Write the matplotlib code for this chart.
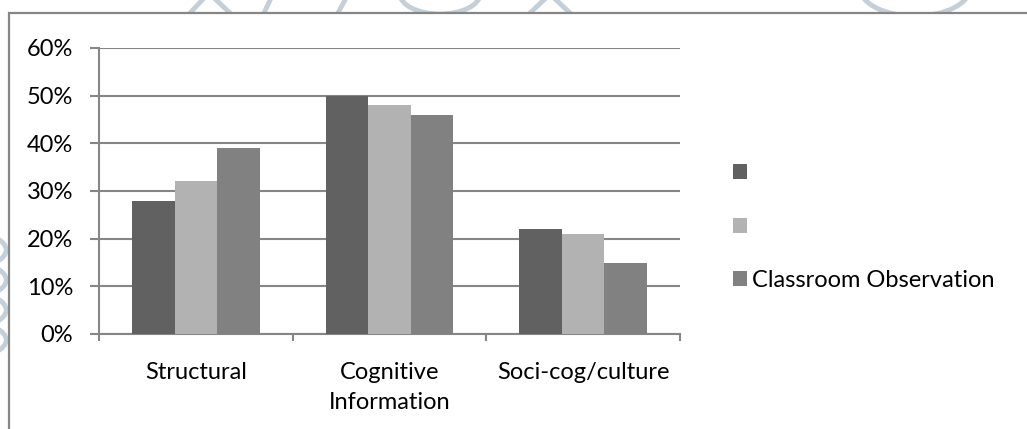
import matplotlib

matplotlib.use("Agg")

import matplotlib.pyplot as plt
import numpy as np
from matplotlib.patches import Patch, Rectangle, Arc
from matplotlib.lines import Line2D
from matplotlib.ticker import FuncFormatter, MultipleLocator

categories = ["Structural", "Cognitive\nInformation", "Soci-cog/culture"]
series_labels = ["", "", "Classroom Observation"]
series_values = [
    [28, 50, 22],
    [32, 48, 21],
    [39, 46, 15],
]
series_colors = ["#616161", "#b2b2b2", "#818181"]

W, H = 1027, 429
FS = 17
plt.rcParams["font.family"] = ["Lato", "DejaVu Sans"]

fig = plt.figure(figsize=(W / 100, H / 100), dpi=100)


def px(x, y):
    return x / W, 1 - y / H


# faint watermark strokes peeking out around the chart frame
mark_color = "#c3cfd9"
for x0, y0, x1, y1 in [(190, 13, 206, -4), (212, -4, 230, 13), (264, 13, 272, -4),
                       (338, 13, 346, -2), (530, 13, 548, -4), (552, -4, 570, 13)]:
    fig.add_artist(Line2D([x0 / W, x1 / W], [1 - y0 / H, 1 - y1 / H],
                          color=mark_color, lw=3.5, transform=fig.transFigure,
                          zorder=-3))
for cy in [250, 280, 310, 340]:
    fig.add_artist(Arc(px(-40, cy), 0.09, 0.09, theta1=-40, theta2=40,
                       color=mark_color, lw=3.5, transform=fig.transFigure,
                       zorder=-3))
fig.add_artist(Arc(px(440, -6), 80 / W, 40 / H, theta1=180, theta2=360,
                   color=mark_color, lw=3.5, transform=fig.transFigure, zorder=-3))
fig.add_artist(Arc(px(915, -12), 110 / W, 56 / H, theta1=180, theta2=360,
                   color=mark_color, lw=3.5, transform=fig.transFigure, zorder=-3))

# chart frame
fig.add_artist(Rectangle(px(9, 440), (W + 20) / W, (440 - 13) / H,
                         transform=fig.transFigure, facecolor="white",
                         edgecolor="#868686", lw=1.6, zorder=-2))

ax = fig.add_axes([99 / W, 1 - 334 / H, (680 - 99) / W, (334 - 48) / H])
ax.set_facecolor("none")

x = np.arange(len(categories))
bar_w = 0.22
for i, (vals, color, label) in enumerate(zip(series_values, series_colors, series_labels)):
    ax.bar(x + (i - 1) * bar_w, vals, bar_w, color=color, label=label, zorder=3)

ax.set_xlim(-0.5, len(categories) - 0.5)
ax.set_ylim(0, 60)
ax.yaxis.set_major_locator(MultipleLocator(10))
ax.yaxis.set_major_formatter(FuncFormatter(lambda v, _: f"{v:.0f}%"))
ax.grid(axis="y", color="#868686", lw=1.5, zorder=0)

ax.set_xticks(np.arange(len(categories) + 1) - 0.5, minor=False)
ax.set_xticklabels([])
ax.set_xticks(x, minor=True)
ax.set_xticklabels(categories, minor=True, linespacing=1.55)
ax.tick_params(axis="x", which="major", direction="out", length=5, width=1.5, color="#868686")
ax.tick_params(axis="x", which="minor", length=0, pad=20, labelsize=FS)
ax.tick_params(axis="y", direction="out", length=6.5, width=1.5, color="#868686",
               pad=12, labelsize=FS)

for side in ["top", "right"]:
    ax.spines[side].set_visible(False)
for side in ["left", "bottom"]:
    ax.spines[side].set_color("#868686")
    ax.spines[side].set_linewidth(1.5)

handles = [Patch(facecolor=c, edgecolor="none") for c in series_colors]
fig.legend(handles, series_labels, loc="center left",
           bbox_to_anchor=px(733, 227), frameon=False, fontsize=FS,
           handlelength=0.6, handleheight=0.6, handletextpad=0.2,
           labelspacing=1.37, borderpad=0, borderaxespad=0)

fig.savefig("out.png", dpi=100)
